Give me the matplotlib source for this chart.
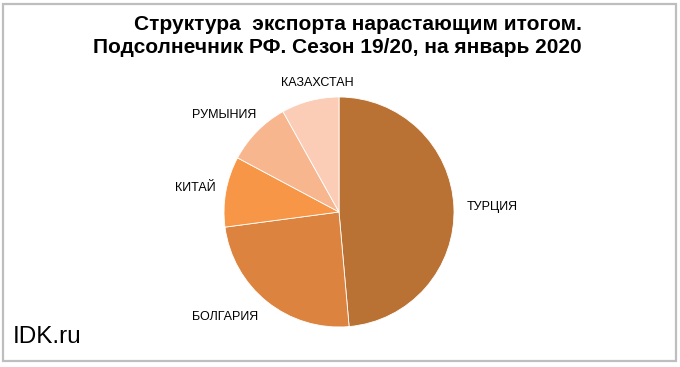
import matplotlib.pyplot as plt
from matplotlib.patches import FancyBboxPatch

plt.rcParams['font.family'] = ['Liberation Sans', 'DejaVu Sans']

# Export structure, share in %
countries = ['ТУРЦИЯ', 'БОЛГАРИЯ', 'КИТАЙ', 'РУМЫНИЯ', 'КАЗАХСТАН']
shares = [48.6, 24.3, 9.9, 9.1, 8.1]
colors = ['#B97233', '#DC843F', '#F79646', '#F8B68F', '#FBCDB7']

# label positions (pie data units), Excel-like placement
label_xy = [(1.33, 0.04), (-0.99, -0.91), (-1.25, 0.21), (-1.00, 0.84), (-0.19, 1.125)]

fig = plt.figure(figsize=(6.8, 3.67), dpi=100)
fig.patch.set_facecolor('white')

# grey frame round the chart
frame = FancyBboxPatch((3 / 680, 6 / 367), 673 / 680, 357 / 367,
                       boxstyle='square,pad=0', transform=fig.transFigure,
                       facecolor='none', edgecolor='#BEBEBE', linewidth=1.6)
fig.patches.append(frame)

cx, cy, r = 339, 212, 115
ax = fig.add_axes([(cx - r) / 680, (367 - cy - r) / 367, 2 * r / 680, 2 * r / 367])
ax.pie(shares, colors=colors, startangle=90, counterclock=False,
       wedgeprops=dict(edgecolor='white', linewidth=0.6))
ax.set_xlim(-1, 1)
ax.set_ylim(-1, 1)
ax.set_aspect('equal')
ax.axis('off')

for name, (x, y) in zip(countries, label_xy):
    ax.text(x, y, name, ha='center', va='center', fontsize=9, color='black', clip_on=False)

fig.text(582 / 680, 1 - 29.5 / 367, 'Структура  экспорта нарастающим итогом.',
         ha='right', va='baseline', fontsize=15, fontweight='bold')
fig.text(582 / 680, 1 - 53 / 367, 'Подсолнечник РФ. Сезон 19/20, на январь 2020',
         ha='right', va='baseline', fontsize=15, fontweight='bold')

fig.text(13 / 680, 1 - 343 / 367, 'IDK.ru', ha='left', va='baseline', fontsize=17.5)

fig.savefig('out.png', dpi=100)
